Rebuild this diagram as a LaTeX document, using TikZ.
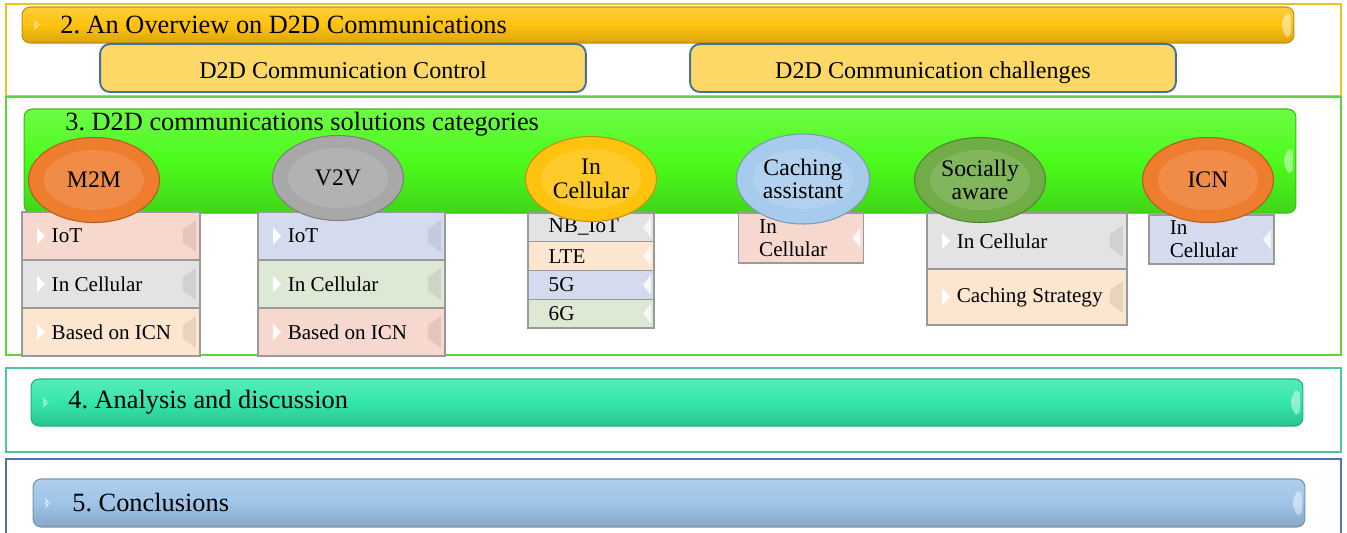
\documentclass[tikz,border=0pt]{standalone}
\usepackage{fontspec}
\setmainfont{Liberation Serif}
\newfontfamily\diagfont{Liberation Serif}
\usetikzlibrary{shapes.geometric}
\frenchspacing
\definecolor{frameYellow}{HTML}{EEC21C}
\definecolor{frameGreen}{HTML}{62D23C}
\definecolor{frameTeal}{HTML}{4CC79B}
\definecolor{frameBlue}{HTML}{5073B8}
\definecolor{barYellow}{HTML}{FFC20E}
\definecolor{barGreen}{HTML}{4CFB1C}
\definecolor{barTeal}{HTML}{33E6AC}
\definecolor{barBlue}{HTML}{9FC4E8}
\definecolor{topicFill}{HTML}{FDD866}
\definecolor{topicBorder}{HTML}{41719C}
\definecolor{catOrange}{HTML}{EE7D2E}
\definecolor{catGray}{HTML}{A8A8A8}
\definecolor{catGold}{HTML}{FFC30F}
\definecolor{catBlue}{HTML}{A7CBEC}
\definecolor{catGreen}{HTML}{71AD47}
\definecolor{itemPink}{HTML}{F7D8CF}
\definecolor{itemGray}{HTML}{E3E3E3}
\definecolor{itemPeach}{HTML}{FCE6CF}
\definecolor{itemLilac}{HTML}{D5DBEF}
\definecolor{itemMint}{HTML}{DDE9D5}
\definecolor{itemBorder}{HTML}{9A9A9A}

\begin{document}
\begin{tikzpicture}[x=0.02cm, y=-0.02cm,
    frame/.style={draw=#1, line width=1.1pt, minimum width=26.7cm},
    bar/.style={draw=#1!75!black, line width=0.6pt, rounded corners=0.16cm, minimum width=25.44cm,
        top color=#1!82!white, bottom color=#1!85!black, middle color=#1,
        path picture={
            \fill[#1!25!white] ([xshift=0.24cm,yshift=0.1cm]path picture bounding box.west) -- ++(0.1cm,-0.1cm) -- ++(-0.1cm,-0.1cm) -- cycle;
            \fill[white, opacity=0.45] ([xshift=-0.06cm,yshift=0.3cm]path picture bounding box.east) -- ++(-0.18cm,-0.14cm) -- ++(0,-0.32cm) -- ++(0.18cm,-0.14cm) -- cycle;}},
    title/.style={anchor=west, inner sep=0, font=\diagfont\fontsize{15}{18}\selectfont},
    topic/.style={draw=topicBorder, line width=1.1pt, fill=topicFill, rounded corners=0.2cm,
        minimum width=9.72cm, minimum height=0.96cm, text height=12pt, text depth=0pt,
        font=\diagfont\fontsize{13.7}{16}\selectfont},
    cat/.style={ellipse, draw=#1!75!black, line width=0.6pt, fill=#1, minimum width=2.62cm, minimum height=1.7cm,
        inner sep=0, align=center, font=\diagfont\fontsize{13.5}{13.5}\selectfont,
        path picture={\fill[white, opacity=0.12] (path picture bounding box.center) ellipse (1.0cm and 0.6cm);}},
    itemtext/.style={anchor=west, inner sep=0, align=left, font=\diagfont\fontsize{12}{13}\selectfont},
    item/.style={draw=itemBorder, line width=0.7pt, minimum width=3.56cm, minimum height=0.96cm,
        label={[itemtext, xshift=0.6cm]west:#1},
        path picture={
            \fill[white] ([xshift=0.3cm,yshift=0.17cm]path picture bounding box.west) -- ++(0.16cm,-0.17cm) -- ++(-0.16cm,-0.17cm) -- cycle;
            \fill[black, opacity=0.08] ([xshift=-0.08cm,yshift=0.32cm]path picture bounding box.east) -- ++(-0.26cm,-0.18cm) -- ++(0,-0.28cm) -- ++(0.26cm,-0.18cm) -- cycle;}},
    cell/.style={draw=itemBorder, line width=0.7pt, minimum width=2.52cm, minimum height=0.575cm,
        label={[itemtext, xshift=0.42cm]west:#1},
        path picture={
            \fill[white, opacity=0.8] ([xshift=-0.06cm,yshift=0.2cm]path picture bounding box.east) -- ++(-0.16cm,-0.2cm) -- ++(0.16cm,-0.2cm) -- cycle;}}
]
\useasboundingbox (0,0) rectangle (1347,532);
\node[frame=frameYellow, minimum height=1.84cm] (f2) at (673.5,50) {};
\node[frame=frameGreen, minimum height=5.16cm] (f3) at (673.5,226) {};
\node[frame=frameTeal, minimum height=1.68cm] (f4) at (673.5,410) {};
\node[frame=frameBlue, minimum height=1.6cm] (f5) at (673.5,499) {};

\node[bar=barYellow, minimum height=0.72cm] (b2) at (658,25) {};
\node[bar=barGreen, minimum height=2.08cm] (b3) at (660,161) {};
\node[bar=barTeal, minimum height=0.94cm] (b4) at (667,402.5) {};
\node[bar=barBlue, minimum height=0.96cm] (b5) at (669,503) {};
\node[title] (t2) at (60,25) {2. An Overview on D2D Communications};
\node[title] (t3) at (65,124) {3. D2D communications solutions categories};
\node[title] (t4) at (68,402) {4. Analysis and discussion};
\node[title] (t5) at (72,503) {5. Conclusions};

\node[topic] (control) at (343,68) {D2D Communication Control};
\node[topic] (challenges) at (933,68) {D2D Communication challenges};

\node[item=IoT, fill=itemPink] (m2m1) at (111,236) {};
\node[item=In Cellular, fill=itemGray] (m2m2) at (111,284) {};
\node[item=Based on ICN, fill=itemPeach] (m2m3) at (111,332) {};
\node[item=IoT, fill=itemLilac, minimum width=3.74cm] (v2v1) at (351.5,236) {};
\node[item=In Cellular, fill=itemMint, minimum width=3.74cm] (v2v2) at (351.5,284) {};
\node[item=Based on ICN, fill=itemPink, minimum width=3.74cm] (v2v3) at (351.5,332) {};
\node[cell=NB\_IoT, fill=itemGray] (cell1) at (591,227.4) {};
\node[cell=LTE, fill=itemPeach] (cell2) at (591,256.1) {};
\node[cell=5G, fill=itemLilac] (cell3) at (591,284.9) {};
\node[cell=6G, fill=itemMint] (cell4) at (591,313.6) {};
\node[cell=In\\Cellular, fill=itemPink, minimum width=2.5cm, minimum height=1.0cm] (cach1) at (801,238) {};
\node[item=In Cellular, fill=itemGray, minimum width=4.0cm, minimum height=1.12cm] (soc1) at (1027,241) {};
\node[item=Caching Strategy, fill=itemPeach, minimum width=4.0cm, minimum height=1.12cm] (soc2) at (1027,297) {};
\node[cell=In\\Cellular, fill=itemLilac, minimum width=2.5cm, minimum height=0.98cm] (icn1) at (1211.5,239.5) {};

\node[cat=catOrange] (m2m) at (94,180) {M2M};
\node[cat=catGray] (v2v) at (338,178) {V2V};
\node[cat=catGold] (incell) at (591,179) {In\\Cellular};
\node[cat=catBlue, minimum width=2.66cm, minimum height=1.8cm] (caching) at (803,179) {Caching\\assistant};
\node[cat=catGreen] (social) at (980,180) {Socially\\aware};
\node[cat=catOrange] (icn) at (1208,180) {ICN};
\end{tikzpicture}
\end{document}
